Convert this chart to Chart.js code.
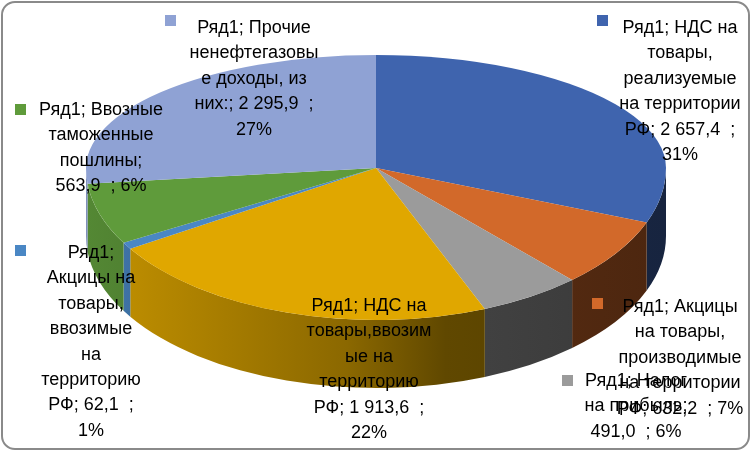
<!DOCTYPE html>
<html lang="ru">
<head>
<meta charset="utf-8">
<title>Ненефтегазовые доходы</title>
<script src="https://cdn.jsdelivr.net/npm/chart.js@4.4.1/dist/chart.umd.min.js"></script>
<style>
  html, body { margin: 0; padding: 0; background: #fff; }
  #wrap { position: relative; width: 752px; height: 452px; }
  #wrap canvas { position: absolute; left: 0; top: 0; }
  #frame {
    position: absolute; left: 1px; top: 1px; width: 749px; height: 449px;
    box-sizing: border-box; border: 2px solid #8a8a8a; border-radius: 14px;
    pointer-events: none;
  }
</style>
</head>
<body>
<div id="wrap">
  <canvas id="pieChart" width="752" height="452"></canvas>
  <div id="frame"></div>
</div>
<script>
// =============== DATA ===============
const SERIES_NAME = 'Ряд1';
const CATEGORIES = [
  'НДС на товары, реализуемые на территории РФ',
  'Акцицы на товары, производимые на территории РФ',
  'Налог на прибыль',
  'НДС на товары,ввозимые на территорию РФ',
  'Акцицы на товары, ввозимые на территорию РФ',
  'Ввозные таможенные пошлины',
  'Прочие ненефтегазовые доходы, из них:'
];
const VALUES   = [2657.4, 632.2, 491.0, 1913.6, 62.1, 563.9, 2295.9];
const PERCENTS = [31, 7, 6, 22, 1, 6, 27]; // as printed in the labels
const COLORS   = ['#3f64ae', '#d2692a', '#9b9b9b', '#e0a700', '#4a87c4', '#5f9b3b', '#8fa2d4'];
// ====================================

// --- look of the tilted pie (back half is flatter than the front one) ---
const TILT = { cx: 376, cy: 168, rx: 290, ryBack: 113, ryFront: 152, depth: 68 };
const LABEL_FONT = '18px "Liberation Sans", Arial, sans-serif';
const LINE_H = 25.4;
const KEY = 11;

// label boxes: text centre x, first baseline y, wrap width(s), legend key corner
const LABEL_LAYOUT = [
  { x: 680, y: 33,  w: 130, kx: 597, ky: 15 },
  { x: 680, y: 312, w: 134, kx: 592, ky: 298 },
  { x: 636, y: 386, w: 115, kx: 562, ky: 375 },
  { x: 369, y: 311, w: 130, kx: 287, ky: 297 },
  { x: 91,  y: 258, w: 104, kx: 15,  ky: 245 },
  { x: 101, y: 115, w: [130, 130, 110], kx: 15, ky: 104 },
  { x: 254, y: 33,  w: 137, kx: 165, ky: 15 }
];

// darken a hex colour by factor k
function shade(hex, k) {
  const n = parseInt(hex.slice(1), 16);
  const r = Math.round(((n >> 16) & 255) * k);
  const g = Math.round(((n >> 8) & 255) * k);
  const b = Math.round((n & 255) * k);
  return 'rgb(' + r + ',' + g + ',' + b + ')';
}

// 2657.4 -> "2 657,4"
function fmtRu(v) {
  const parts = v.toFixed(1).split('.');
  return parts[0].replace(/\B(?=(\d{3})+(?!\d))/g, ' ') + ',' + parts[1];
}

// greedy wrap, splitting a word by letters when it cannot fit on its own
function wrapText(ctx, text, width) {
  const maxW = n => Array.isArray(width) ? width[Math.min(n, width.length - 1)] : width;
  const words = text.split(' ');
  const lines = [];
  let line = '';
  words.forEach(w => {
    const test = line ? line + ' ' + w : w;
    if (ctx.measureText(test.trimEnd()).width <= maxW(lines.length)) { line = test; return; }
    if (line) lines.push(line.trim());
    while (ctx.measureText(w).width > maxW(lines.length)) {
      let k = w.length - 1;
      while (k > 1 && ctx.measureText(w.slice(0, k)).width > maxW(lines.length)) k--;
      lines.push(w.slice(0, k));
      w = w.slice(k);
    }
    line = w;
  });
  if (line.trim()) lines.push(line.trim());
  return lines;
}

// map the library's round pie onto the ellipse
function squash(ctx, arc, ry) {
  ctx.translate(TILT.cx, TILT.cy);
  ctx.scale(TILT.rx / arc.outerRadius, ry / arc.outerRadius);
  ctx.translate(-arc.x, -arc.y);
}

// ✅ Front wall + back half of the top face
const pie3d = {
  id: 'pie3d',
  beforeDatasetsDraw(chart) {
    const ctx = chart.ctx;
    const arcs = chart.getDatasetMeta(0).data;
    const { x, y, outerRadius: r } = arcs[0];

    // front wall, only angles 0..PI face the viewer
    ctx.save();
    squash(ctx, arcs[0], TILT.ryFront);
    const d = TILT.depth * r / TILT.ryFront;
    arcs.forEach((arc, i) => {
      const s = Math.max(arc.startAngle, 0);
      const e = Math.min(arc.endAngle, Math.PI);
      if (e <= s) return;
      const g = ctx.createLinearGradient(x - r, 0, x + r, 0);
      g.addColorStop(0, shade(COLORS[i], 0.88));
      g.addColorStop(0.45, shade(COLORS[i], 0.62));
      g.addColorStop(0.62, shade(COLORS[i], 0.43));
      g.addColorStop(1, shade(COLORS[i], 0.36));
      ctx.beginPath();
      ctx.arc(x, y, r, s, e);
      ctx.arc(x, y + d, r, e, s, true);
      ctx.closePath();
      ctx.fillStyle = g;
      ctx.fill();
    });
    ctx.restore();

    // Chart.js paints the top faces next: keep only the back half
    ctx.save();
    ctx.beginPath();
    ctx.rect(0, 0, chart.width, TILT.cy);
    ctx.clip();
    squash(ctx, arcs[0], TILT.ryBack);
  },
  afterDatasetsDraw(chart) {
    const ctx = chart.ctx;
    ctx.restore();
    // front half of the top face, drawn again by the controller
    const meta = chart.getDatasetMeta(0);
    ctx.save();
    ctx.beginPath();
    ctx.rect(0, TILT.cy, chart.width, chart.height - TILT.cy);
    ctx.clip();
    squash(ctx, meta.data[0], TILT.ryFront);
    meta.controller.draw();
    ctx.restore();
  }
};

// ✅ Excel-style data labels with a legend key
const dataLabels = {
  id: 'dataLabels',
  afterDraw(chart) {
    const ctx = chart.ctx;
    ctx.save();
    ctx.font = LABEL_FONT;
    ctx.textAlign = 'center';
    ctx.textBaseline = 'alphabetic';
    CATEGORIES.forEach((cat, i) => {
      const pos = LABEL_LAYOUT[i];
      const text = SERIES_NAME + '; ' + cat + '; ' + fmtRu(VALUES[i]) + '  ; ' + PERCENTS[i] + '%';
      const lines = wrapText(ctx, text, pos.w);
      ctx.fillStyle = COLORS[i];
      ctx.fillRect(pos.kx, pos.ky, KEY, KEY);
      ctx.fillStyle = '#000';
      lines.forEach((ln, j) => ctx.fillText(ln, pos.x, pos.y + j * LINE_H));
    });
    ctx.restore();
  }
};

// ✅ Build chart
document.addEventListener('DOMContentLoaded', () => {
  const ctx = document.getElementById('pieChart').getContext('2d');
  new Chart(ctx, {
    type: 'pie',
    data: {
      labels: CATEGORIES,
      datasets: [{
        label: SERIES_NAME,
        data: VALUES,
        backgroundColor: COLORS,
        borderWidth: 0,
        clip: false
      }]
    },
    options: {
      responsive: false,
      animation: false,
      events: [],
      layout: { padding: 0 },
      plugins: {
        legend: { display: false },
        tooltip: { enabled: false }
      }
    },
    plugins: [pie3d, dataLabels]
  });
});
</script>
</body>
</html>
